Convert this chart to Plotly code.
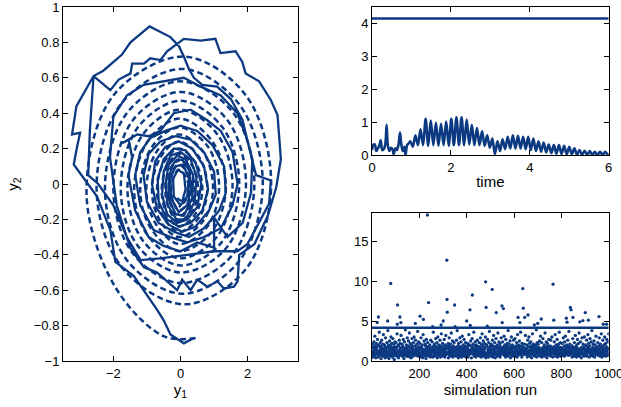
import plotly.graph_objects as go

BLUE = "#0c3a82"
FONT = "Liberation Sans, Arial, sans-serif"

# ---------------- left panel: phase portrait (y1, y2) ----------------
dashed_path = [
    (0.45, -0.87), (-0.5, -0.86), (-1.95, -0.58), (-2.8, -0.05), (-2.0, 0.5), (0.1, 0.72), (1.95, 0.5), (2.7, 0.0), (1.95, -0.48),
    (0.1, -0.68), (-1.75, -0.47), (-2.5, -0.03), (-1.78, 0.45), (0.05, 0.65), (1.75, 0.45), (2.45, 0.0), (1.73, -0.44),
    (0.05, -0.62), (-1.6, -0.43), (-2.25, -0.03), (-1.6, 0.4), (0.0, 0.58), (1.58, 0.4), (2.2, 0.0), (1.55, -0.4),
    (0.0, -0.56), (-1.43, -0.39), (-2.0, -0.03), (-1.42, 0.36), (0.0, 0.52), (1.4, 0.36), (1.95, 0.0), (1.37, -0.36),
    (0.0, -0.5), (-1.27, -0.35), (-1.78, -0.03), (-1.27, 0.32), (0.0, 0.47), (1.25, 0.32), (1.75, 0.0), (1.22, -0.33),
    (0.0, -0.46), (-1.12, -0.32), (-1.58, -0.03), (-1.12, 0.28), (-0.02, 0.42), (1.1, 0.28), (1.55, -0.01), (1.08, -0.3),
    (-0.02, -0.42), (-0.98, -0.29), (-1.38, -0.04), (-0.98, 0.24), (-0.03, 0.37), (0.95, 0.24), (1.35, -0.02), (0.93, -0.27),
    (-0.03, -0.38), (-0.85, -0.26), (-1.2, -0.04), (-0.85, 0.21), (-0.04, 0.32), (0.82, 0.21), (1.15, -0.02), (0.8, -0.24),
    (-0.04, -0.34), (-0.72, -0.23), (-1.02, -0.04), (-0.72, 0.18), (-0.05, 0.28), (0.68, 0.18), (0.97, -0.03), (0.67, -0.21),
    (-0.05, -0.3), (-0.6, -0.21), (-0.85, -0.04), (-0.6, 0.15), (-0.05, 0.24), (0.56, 0.15), (0.8, -0.03), (0.55, -0.19),
    (-0.05, -0.27), (-0.5, -0.19), (-0.7, -0.04), (-0.5, 0.12), (-0.05, 0.2), (0.45, 0.12), (0.65, -0.03), (0.44, -0.17),
    (-0.05, -0.24), (-0.4, -0.17), (-0.56, -0.04), (-0.4, 0.1), (-0.05, 0.17), (0.36, 0.1), (0.52, -0.03), (0.36, -0.15),
    (-0.05, -0.21), (-0.32, -0.15), (-0.45, -0.04), (-0.32, 0.08), (-0.05, 0.14), (0.28, 0.08), (0.42, -0.03), (0.28, -0.13),
    (-0.05, -0.18), (-0.26, -0.13), (-0.36, -0.04), (-0.26, 0.06), (-0.05, 0.11), (0.22, 0.06), (0.33, -0.03), (0.22, -0.11),
    (-0.05, -0.15), (-0.2, -0.11), (-0.28, -0.04), (-0.2, 0.04), (-0.05, 0.08), (0.16, 0.04), (0.25, -0.03), (0.16, -0.09),
    (-0.05, -0.13),
]

solid_path = [
    (0.4, -0.87), (0.1, -0.9), (-0.3, -0.85), (-0.5, -0.77), (-0.7, -0.71), (-1.09, -0.6), (-1.39, -0.52), (-1.94, -0.44),
    (-2.09, -0.26), (-2.49, -0.07), (-2.84, 0.02), (-3.18, 0.11), (-3.08, 0.21), (-2.99, 0.29), (-3.23, 0.28), (-3.1, 0.44),
    (-2.59, 0.61), (-2.3, 0.64), (-1.75, 0.73), (-1.49, 0.8), (-0.92, 0.89), (-0.6, 0.86), (-0.3, 0.83), (-0.05, 0.78),
    (0.1, 0.72), (0.25, 0.65), (0.4, 0.6), (0.65, 0.56), (1.09, 0.55), (1.5, 0.48), (1.85, 0.36), (2.05, 0.2), (2.25, 0.05),
    (2.69, 0.02), (2.64, -0.11), (2.39, -0.2), (1.99, -0.34), (1.69, -0.38), (1.0, -0.38), (0.2, -0.4), (-0.6, -0.42),
    (-1.19, -0.43), (-1.6, -0.3), (-2.0, -0.12), (-2.45, 0.0), (-2.75, 0.05), (-2.7, 0.3), (-2.59, 0.61), (-2.09, 0.53),
    (-1.84, 0.59), (-1.49, 0.625), (-1.44, 0.68), (-1.09, 0.68), (-0.9, 0.71), (-0.6, 0.7), (-0.4, 0.75), (-0.15, 0.785),
    (0.1, 0.82), (0.6, 0.81), (1.04, 0.82), (1.19, 0.74), (1.64, 0.75), (1.84, 0.69), (1.94, 0.625), (2.34, 0.58),
    (2.69, 0.475), (2.89, 0.39), (2.94, 0.25), (2.99, 0.14), (2.85, -0.02), (2.6, -0.18), (2.2, -0.34), (1.75, -0.4),
    (1.7, -0.55), (1.59, -0.58), (1.29, -0.59), (1.1, -0.55), (0.8, -0.58), (0.5, -0.54), (0.3, -0.6), (0.05, -0.54),
    (-0.1, -0.6), (-0.4, -0.55), (-0.7, -0.5), (-1.09, -0.47), (-1.5, -0.36), (-1.9, -0.12), (-2.1, 0.15), (-2.0, 0.38),
    (-1.6, 0.5), (-1.1, 0.56), (-0.5, 0.58), (0.1, 0.6), (0.6, 0.55), (1.2, 0.5), (1.69, 0.4), (1.99, 0.25), (2.14, 0.14),
    (2.1, -0.05), (1.85, -0.22), (1.4, -0.3), (1.0, -0.19), (1.0, -0.36), (0.5, -0.33), (0.0, -0.38), (-0.5, -0.35),
    (-0.95, -0.3), (-1.35, -0.15), (-1.55, 0.05), (-1.44, 0.15), (-1.54, 0.25), (-1.74, 0.23), (-1.29, 0.28), (-0.95, 0.27),
    (-0.6, 0.3), (-0.2, 0.4), (0.3, 0.42), (0.8, 0.36), (1.2, 0.3), (1.55, 0.18), (1.7, 0.0),
    (1.55, -0.12), (1.2, -0.25), (0.7, -0.3), (0.2, -0.33), (-0.3, -0.3), (-0.8, -0.26), (-1.2, -0.12), (-1.35, 0.05),
    (-1.2, 0.18), (-0.9, 0.26), (-0.45, 0.3), (0.0, 0.33), (0.5, 0.3), (0.95, 0.22), (1.3, 0.1), (1.35, -0.05),
    (1.15, -0.15), (0.7, -0.25), (0.25, -0.3), (-0.2, -0.27), (-0.65, -0.22), (-1.0, -0.1), (-1.1, 0.05), (-0.95, 0.17),
    (-0.6, 0.24), (-0.15, 0.27), (0.3, 0.25), (0.7, 0.18), (1.0, 0.07), (1.05, -0.06),
    (0.85, -0.15), (0.45, -0.24), (0.05, -0.27), (-0.35, -0.23), (-0.7, -0.14), (-0.85, 0.0), (-0.75, 0.13), (-0.45, 0.21),
    (-0.05, 0.24), (0.35, 0.2), (0.7, 0.1), (0.82, -0.03),
    (0.65, -0.15), (0.3, -0.22), (-0.05, -0.24), (-0.4, -0.2), (-0.65, -0.1), (-0.68, 0.03), (-0.5, 0.14), (-0.2, 0.2),
    (0.15, 0.19), (0.45, 0.12), (0.62, 0.0),
    (0.5, -0.13), (0.2, -0.2), (-0.1, -0.22), (-0.4, -0.17), (-0.55, -0.06), (-0.5, 0.07), (-0.3, 0.16), (0.0, 0.18),
    (0.3, 0.14), (0.48, 0.04),
    (0.42, -0.1), (0.15, -0.2), (-0.12, -0.2), (-0.38, -0.12), (-0.45, 0.0), (-0.35, 0.11), (-0.1, 0.16), (0.15, 0.14),
    (0.38, 0.05),
    (0.35, -0.08), (0.1, -0.18), (-0.15, -0.17), (-0.35, -0.08), (-0.35, 0.04), (-0.2, 0.12), (0.05, 0.14), (0.28, 0.07),
    (0.3, -0.04),
    (0.2, -0.12), (-0.05, -0.16), (-0.28, -0.08), (-0.3, 0.03), (-0.15, 0.1), (0.08, 0.11), (0.25, 0.03), (0.2, -0.07),
    (0.0, -0.12), (-0.2, -0.07), (-0.22, 0.03), (-0.08, 0.08), (0.1, 0.06), (0.15, -0.03), (0.05, -0.1), (-0.1, -0.08),
]

dashed_y1 = [p[0] for p in dashed_path]
dashed_y2 = [p[1] for p in dashed_path]
solid_y1 = [p[0] for p in solid_path]
solid_y2 = [p[1] for p in solid_path]

# ---------------- top right: signal vs time ----------------
time_vals = [
    0.00, 0.03, 0.07, 0.11, 0.15, 0.19, 0.22, 0.26, 0.30, 0.34, 0.37, 0.40, 0.44, 0.48, 0.52, 0.55, 0.59, 0.63, 0.67,
    0.71, 0.74, 0.78, 0.82, 0.85, 0.89, 0.93,
    0.97, 1.035, 1.10, 1.165, 1.23, 1.295, 1.36, 1.425, 1.49, 1.555, 1.62, 1.685, 1.75, 1.815, 1.88, 1.945,
    2.01, 2.075, 2.14, 2.205, 2.27, 2.335, 2.40, 2.465, 2.53, 2.595, 2.66, 2.725, 2.79, 2.855, 2.92, 2.985,
    3.05, 3.115, 3.18, 3.245, 3.31, 3.375, 3.44, 3.505, 3.57, 3.635, 3.70, 3.765, 3.83, 3.895, 3.96, 4.025,
    4.09, 4.155, 4.22, 4.285, 4.35, 4.415, 4.48, 4.545, 4.61, 4.675, 4.74, 4.805, 4.87, 4.935, 5.00, 5.065,
    5.13, 5.195, 5.26, 5.325, 5.39, 5.455, 5.52, 5.585, 5.65, 5.715, 5.78, 5.845, 5.91, 5.975, 6.00,
]
signal_vals = [
    0.15, 0.30, 0.32, 0.12, 0.20, 0.30, 0.45, 0.15, 0.18, 0.35, 0.92, 0.30, 0.12, 0.22, 0.18, 0.02, 0.20, 0.15, 0.30,
    0.68, 0.35, 0.12, 0.25, 0.00, 0.30, 0.35,
    0.42, 0.25, 0.60, 0.30, 0.78, 0.30, 1.10, 0.28, 1.05, 0.30, 0.98, 0.28, 0.95, 0.30, 1.02, 0.28,
    1.10, 0.30, 1.15, 0.30, 1.15, 0.30, 1.08, 0.32, 0.92, 0.30, 0.82, 0.30, 0.72, 0.28, 0.60, 0.22,
    0.50, 0.03, 0.42, 0.12, 0.48, 0.18, 0.55, 0.20, 0.60, 0.20, 0.58, 0.20, 0.55, 0.18, 0.55, 0.15,
    0.50, 0.12, 0.42, 0.10, 0.38, 0.08, 0.32, 0.06, 0.30, 0.04, 0.30, 0.03, 0.28, 0.02, 0.25, 0.02,
    0.20, 0.01, 0.15, 0.01, 0.13, 0.00, 0.12, 0.00, 0.10, 0.00, 0.10, 0.00, 0.10, 0.02, 0.05,
]
threshold = 4.15

# ---------------- bottom right: per-run values ----------------
run_values_text = """
1.2 0.8 2.1 0.5 1.7 1.1 0.9 2.4 1.5 0.6 1.3 3.1 0.7 1.9 1.0 0.4 1.6 2.2 1.4 0.9 1.8 0.6 2.7 1.2 1.0 0.5 1.5 2.0 0.8 1.3 3.6 1.1 0.7 1.7 2.3 0.9 1.4 0.3 1.9 1.2 2.6 0.8 1.0 1.6 0.6 2.1 1.3 3.3 0.9 1.5
0.7 1.4 2.0 1.1 0.4 1.8 2.9 1.0 0.6 1.5 1.2 0.9 2.3 1.7 0.5 1.3 3.8 0.8 1.1 2.0 1.6 0.3 1.2 2.5 0.9 1.4 0.7 1.9 1.1 3.0 0.6 1.6 2.2 1.0 0.8 1.3 0.5 2.8 1.7 1.2 0.9 2.1 1.4 0.2 1.0 1.8 2.4 0.7 1.5 1.1
2.3 0.9 1.2 1.7 0.6 3.4 1.0 1.5 0.8 2.0 1.3 0.4 1.9 1.1 2.6 0.7 1.4 0.9 2.2 1.6 1.0 0.5 3.2 1.2 0.8 1.7 2.1 0.6 1.3 1.0 1.8 2.7 0.9 1.4 0.3 1.1 2.4 1.6 0.7 1.2 3.9 1.0 1.5 0.8 2.0 1.3 0.6 1.7 2.9 1.1
1.4 0.6 1.9 2.5 1.0 0.8 1.3 3.5 1.7 0.5 1.2 2.2 0.9 1.6 1.1 0.4 2.0 1.3 2.8 0.7 1.5 1.0 1.8 0.6 2.3 1.2 0.9 3.0 1.4 0.8 1.1 1.9 0.5 2.6 1.3 1.0 1.6 0.7 2.1 1.2 0.9 1.5 3.7 1.0 0.6 1.8 2.4 1.1 0.8 1.4
0.9 2.2 1.3 0.7 1.6 1.0 2.9 0.5 1.8 1.2 0.8 2.0 1.5 0.4 1.1 3.3 1.7 0.9 1.3 2.5 0.6 1.4 1.0 2.1 0.8 1.9 1.2 0.3 1.6 2.7 1.1 0.7 1.5 1.0 2.3 0.9 1.8 1.3 3.1 0.6 1.2 1.7 0.8 2.0 1.4 1.0 0.5 2.6 1.3 0.9
1.6 1.1 0.6 2.4 1.3 0.9 1.8 0.5 3.6 1.2 1.0 1.5 0.7 2.1 1.4 0.8 1.9 1.1 2.8 0.6 1.3 1.7 0.9 2.3 1.0 0.4 1.6 3.0 1.2 0.8 1.5 2.0 0.7 1.1 1.8 0.9 2.6 1.4 0.5 1.2 1.9 1.0 3.4 0.8 1.6 1.3 0.6 2.2 1.1 1.5
1.0 1.8 0.7 1.4 2.7 0.9 1.2 0.5 2.0 1.6 1.1 3.2 0.8 1.5 1.0 2.4 0.6 1.3 1.9 0.9 1.7 2.2 0.4 1.2 1.0 2.9 1.5 0.7 1.8 1.1 0.9 2.1 1.4 0.6 3.5 1.3 1.0 1.7 0.8 2.5 1.2 0.5 1.6 1.9 1.1 0.7 2.3 1.4 0.9 1.2
2.0 0.8 1.3 1.7 0.6 1.1 2.6 0.9 1.5 3.8 1.2 0.7 1.9 1.0 0.4 2.2 1.4 1.6 0.8 1.1 2.9 0.6 1.3 1.8 1.0 2.4 0.9 1.5 0.5 1.2 3.1 1.7 0.7 1.0 2.0 1.3 0.8 1.6 2.7 1.1 0.6 1.4 1.9 0.9 2.3 1.2 0.5 1.7 1.0 3.0
1.3 0.7 1.6 2.2 1.0 0.5 1.9 1.2 3.3 0.8 1.4 1.1 2.0 0.6 1.7 0.9 2.5 1.3 1.0 0.4 1.8 1.5 2.8 0.7 1.2 1.0 2.1 1.6 0.8 3.6 1.1 1.4 0.6 1.9 1.2 2.4 0.9 1.5 0.5 1.3 2.0 1.7 0.8 1.0 2.6 1.2 0.7 1.8 1.1 1.4
0.8 1.5 2.3 1.1 0.6 1.8 1.0 2.9 1.3 0.9 1.6 0.5 2.1 1.2 3.4 0.7 1.4 1.0 1.9 2.5 0.8 1.2 0.6 1.7 1.1 2.2 1.5 0.9 3.0 1.3 0.4 1.6 1.0 2.0 0.7 1.8 1.2 2.7 0.9 1.4 1.1 0.5 2.3 1.6 1.0 3.7 0.8 1.3 1.9 1.1
1.5 1.0 0.6 2.1 1.3 1.8 0.8 1.1 2.6 0.5 1.4 1.9 1.0 3.2 0.7 1.6 1.2 2.3 0.9 1.5 0.4 1.8 1.1 2.8 1.3 0.8 1.7 1.0 2.0 0.6 1.4 3.5 1.2 0.9 1.6 2.4 0.7 1.1 1.9 1.3 0.5 2.2 1.5 1.0 0.8 2.9 1.2 1.7 0.6 1.4
1.1 2.4 0.9 1.5 0.6 1.2 1.8 3.1 1.0 0.7 2.0 1.4 1.6 0.5 2.7 1.1 0.9 1.3 1.9 0.8 2.2 1.5 0.6 1.0 3.8 1.2 1.7 0.7 2.1 1.3 0.9 1.6 2.5 1.0 0.4 1.4 1.8 1.1 3.0 0.8 1.5 1.2 2.0 0.6 1.3 1.7 1.0 2.6 0.9 1.2
1.7 0.9 1.2 2.8 1.0 0.6 1.5 1.9 1.1 0.8 2.3 1.4 0.5 1.6 3.3 1.0 1.3 0.7 2.0 1.2 1.8 0.9 2.5 1.1 0.6 1.5 1.0 3.6 1.4 0.8 1.9 1.2 0.5 2.2 1.6 1.0 0.7 1.3 2.9 1.1 1.7 0.8 1.4 2.1 0.6 1.0 1.5 3.2 1.2 0.9
1.2 1.6 0.8 2.0 1.3 0.5 1.1 2.6 1.5 0.9 1.8 1.0 3.0 0.7 1.4 2.2 1.2 0.6 1.7 1.0 2.4 0.9 1.3 0.4 1.9 1.6 1.1 3.4 0.8 1.5 1.2 2.1 0.7 1.0 1.8 2.7 1.3 0.6 1.4 1.1 2.0 0.9 1.6 3.9 1.0 0.5 1.3 2.3 1.7 0.8
1.0 2.1 1.4 0.7 1.7 1.2 0.9 2.5 1.1 0.6 1.5 3.1 1.3 0.8 1.9 1.0 2.3 0.5 1.6 1.2 0.9 2.8 1.4 1.0 0.7 1.8 1.2 2.0 0.6 1.5 3.5 1.1 0.8 1.7 1.3 2.4 0.9 1.0 0.4 1.6 2.2 1.2 1.9 0.7 1.4 1.1 2.7 0.8 1.3 1.6
1.4 0.8 1.9 1.1 2.6 0.6 1.3 1.0 1.7 3.0 0.9 1.5 1.2 0.5 2.2 1.6 1.0 0.7 1.8 2.4 1.1 1.4 0.8 3.3 1.2 0.6 1.6 2.0 1.0 1.3 0.9 2.7 1.5 0.5 1.1 1.8 1.3 2.1 0.7 1.0 3.6 1.4 0.9 1.6 1.2 2.3 0.6 1.7 1.1 1.0
0.9 1.3 2.2 1.0 1.6 0.7 1.2 2.9 1.5 0.8 1.1 1.9 0.6 2.4 1.3 1.0 3.1 0.9 1.4 1.7 0.5 1.2 2.0 1.0 0.8 1.6 2.6 1.1 1.3 0.7 1.8 3.7 1.2 0.9 1.5 2.1 1.0 0.6 1.4 1.7 2.5 0.8 1.1 1.3 0.5 1.9 1.2 2.8 1.0 1.5
1.3 1.0 1.7 0.6 2.3 1.1 0.8 1.5 3.2 1.2 0.9 1.8 1.4 0.5 2.0 1.0 1.6 2.7 0.7 1.3 1.1 2.2 0.9 1.5 3.5 0.6 1.2 1.9 1.0 0.8 2.4 1.4 1.1 0.4 1.7 1.3 2.9 0.9 1.6 1.0 1.2 2.1 0.7 1.5 1.8 0.6 3.0 1.1 1.4 0.9
1.1 1.5 0.7 2.0 1.2 0.9 2.6 1.4 0.6 1.8 1.0 3.3 1.3 0.8 1.6 2.2 1.1 0.5 1.9 1.2 2.8 0.9 1.4 1.0 0.7 2.4 1.5 1.1 3.8 0.8 1.3 1.7 0.6 2.1 1.0 1.4 0.9 2.5 1.2 1.6 0.5 1.1 2.0 1.3 0.8 3.1 1.5 1.0 1.7 1.2
1.6 0.9 1.2 2.3 1.0 0.7 1.5 1.9 1.1 2.9 0.8 1.4 1.0 0.6 2.1 1.3 1.7 0.9 3.4 1.2 1.0 0.5 1.8 1.4 2.6 0.8 1.1 1.6 0.7 2.0 1.3 1.0 3.0 0.9 1.5 1.2 2.2 0.6 1.4 1.8 1.1 2.7 0.8 1.3 1.6 1.0 2.4 0.7 1.5 3.4
"""
run_values = [float(v) for v in run_values_text.split()]

outlier_runs = [22, 27, 66, 79, 107, 108, 118, 122, 183, 203, 217, 234, 239, 256, 292, 301, 316, 317, 318, 349,
                351, 400, 414, 415, 424, 480, 482, 487, 508, 525, 549, 550, 555, 617, 625, 637, 639, 645, 659,
                686, 700, 715, 765, 768, 821, 824, 838, 841, 849, 878, 891, 901, 914, 959, 977, 991]
outlier_vals = [4.8, 5.5, 5.0, 9.7, 4.6, 7.0, 5.5, 4.8, 4.7, 5.6, 5.2, 18.25, 7.3, 4.3, 4.5, 5.0, 12.6, 7.7, 6.1, 7.0,
                4.3, 5.0, 6.4, 4.45, 8.25, 9.9, 6.7, 4.35, 8.95, 6.05, 6.9, 4.8, 6.55, 5.45, 4.8, 9.05, 6.6, 5.45, 5.75,
                4.5, 4.7, 5.25, 9.6, 5.1, 5.35, 4.85, 6.7, 6.4, 5.45, 4.9, 5.05, 6.05, 5.1, 5.55, 4.6, 4.6]

for r, v in zip(outlier_runs, outlier_vals):
    run_values[r - 1] = v
run_index = list(range(1, len(run_values) + 1))

# ---------------- figure ----------------
fig = go.Figure()

fig.add_trace(go.Scatter(x=dashed_y1, y=dashed_y2, mode="lines", xaxis="x", yaxis="y",
                         line=dict(color=BLUE, width=2.5, dash="6px,3.5px", shape="spline", smoothing=1.0),
                         showlegend=False, hoverinfo="skip"))
fig.add_trace(go.Scatter(x=solid_y1, y=solid_y2, mode="lines", xaxis="x", yaxis="y",
                         line=dict(color=BLUE, width=2.3), showlegend=False, hoverinfo="skip"))

fig.add_trace(go.Scatter(x=[0, 6], y=[threshold, threshold], mode="lines", xaxis="x2", yaxis="y2",
                         line=dict(color=BLUE, width=2.6), showlegend=False, hoverinfo="skip"))
fig.add_trace(go.Scatter(x=time_vals, y=signal_vals, mode="lines", xaxis="x2", yaxis="y2",
                         line=dict(color=BLUE, width=2.6, shape="spline", smoothing=0.9),
                         showlegend=False, hoverinfo="skip"))

fig.add_trace(go.Scatter(x=run_index, y=run_values, mode="markers", xaxis="x3", yaxis="y3",
                         marker=dict(color=BLUE, size=3.3), showlegend=False, hoverinfo="skip"))
fig.add_trace(go.Scatter(x=[0, 1000], y=[threshold, threshold], mode="lines", xaxis="x3", yaxis="y3",
                         line=dict(color=BLUE, width=2.6), showlegend=False, hoverinfo="skip"))

W, H = 621, 407


def xd(a, b):
    return [a / W, b / W]


def yd(top, bottom):
    return [1 - bottom / H, 1 - top / H]


axis_common = dict(showline=True, linecolor="black", linewidth=1, mirror="ticks", ticks="inside",
                   ticklen=5, tickcolor="black", showgrid=False, zeroline=False, automargin=False,
                   ticklabeloverflow="allow",
                   tickfont=dict(family=FONT, size=13, color="black"))

fig.update_layout(
    template="none",
    width=W, height=H,
    margin=dict(l=0, r=0, t=0, b=0, autoexpand=False),
    paper_bgcolor="white", plot_bgcolor="white",
    font=dict(family=FONT, size=13, color="black"),
    xaxis=dict(domain=xd(63, 298), anchor="y", range=[-3.5, 3.5], tickvals=[-2, 0, 2],
               title=dict(text="y<sub>1</sub>", font=dict(size=15), standoff=3), **axis_common),
    yaxis=dict(domain=yd(7, 361), anchor="x", range=[-1, 1], tickvals=[-1, -0.8, -0.6, -0.4, -0.2, 0, 0.2, 0.4, 0.6, 0.8, 1],
               title=dict(text="y<sub>2</sub>", font=dict(size=15), standoff=11), **axis_common),
    xaxis2=dict(domain=xd(372, 608.7), anchor="y2", range=[0, 6], tickvals=[0, 2, 4, 6],
                title=dict(text="time", font=dict(size=15), standoff=2), **axis_common),
    yaxis2=dict(domain=yd(7, 155), anchor="x2", range=[0, 4.5], tickvals=[0, 1, 2, 3, 4], **axis_common),
    xaxis3=dict(domain=xd(372, 608.7), anchor="y3", range=[0, 1000], tickvals=[200, 400, 600, 800, 1000],
                title=dict(text="simulation run", font=dict(size=15), standoff=2), **axis_common),
    yaxis3=dict(domain=yd(213, 361), anchor="x3", range=[0, 18.5], tickvals=[0, 5, 10, 15], **axis_common),
)

fig.write_html("out.html", config={"displayModeBar": False, "staticPlot": True},
               post_script="document.body.style.margin='0';document.body.style.overflow='hidden';")
